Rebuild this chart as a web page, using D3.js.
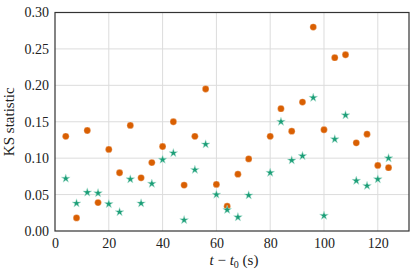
<!DOCTYPE html>
<html>
<head>
<meta charset="utf-8">
<script src="https://cdn.jsdelivr.net/npm/d3@7"></script>
<style>
  body { margin: 0; background: #fff; }
  text { font-family: "Liberation Serif", "DejaVu Serif", serif; fill: #222; }
</style>
</head>
<body>
<script>
// sample times (s), no point at 76
var times = [4, 8, 12, 16, 20, 24, 28, 32, 36, 40, 44, 48, 52, 56, 60, 64, 68, 72,
             80, 84, 88, 92, 96, 100, 104, 108, 112, 116, 120, 124];

// orange circles
var ksA = [0.130, 0.018, 0.138, 0.039, 0.112, 0.080, 0.145, 0.073, 0.094, 0.116,
           0.150, 0.063, 0.130, 0.195, 0.064, 0.034, 0.078, 0.099,
           0.130, 0.168, 0.137, 0.177, 0.280, 0.139, 0.238, 0.242, 0.121, 0.133, 0.090, 0.087];

// green stars
var ksB = [0.072, 0.038, 0.053, 0.052, 0.037, 0.026, 0.071, 0.038, 0.065, 0.098,
           0.107, 0.015, 0.084, 0.119, 0.050, 0.029, 0.019, 0.049,
           0.080, 0.150, 0.097, 0.103, 0.183, 0.021, 0.126, 0.159, 0.069, 0.062, 0.071, 0.100];

var xTicks = [0, 20, 40, 60, 80, 100, 120];
var yTicks = [0, 0.05, 0.10, 0.15, 0.20, 0.25, 0.30];

var margin = {top: 12.5, right: 6, bottom: 45, left: 55},
    width = 415 - margin.left - margin.right,
    height = 276 - margin.top - margin.bottom;

var svg = d3.select("body").append("svg")
    .attr("width", 415)
    .attr("height", 276)
  .append("g")
    .attr("transform", "translate(" + margin.left + "," + margin.top + ")");

var x = d3.scaleLinear().domain([0, 131.6]).range([0, width]);
var y = d3.scaleLinear().domain([0, 0.30]).range([height, 0]);

// grid lines
svg.append("g").selectAll("line.gx")
    .data(xTicks.slice(1))
  .enter().append("line")
    .attr("x1", d => x(d)).attr("x2", d => x(d))
    .attr("y1", 0).attr("y2", height)
    .attr("stroke", "#dcdcdc").attr("stroke-width", 1);

svg.append("g").selectAll("line.gy")
    .data(yTicks.slice(1))
  .enter().append("line")
    .attr("x1", 0).attr("x2", width)
    .attr("y1", d => y(d)).attr("y2", d => y(d))
    .attr("stroke", "#dcdcdc").attr("stroke-width", 1);

// axes (labels only, no tick marks)
var xAxis = svg.append("g")
    .attr("transform", "translate(0," + height + ")")
    .call(d3.axisBottom(x).tickValues(xTicks).tickSize(0).tickPadding(7).tickFormat(d3.format("d")));
var yAxis = svg.append("g")
    .call(d3.axisLeft(y).tickValues(yTicks).tickSize(0).tickPadding(6).tickFormat(d3.format(".2f")));

[xAxis, yAxis].forEach(function(a) {
  a.select(".domain").remove();
  a.selectAll("text")
    .style("font-family", '"Liberation Serif", serif')
    .style("font-size", "14px")
    .attr("fill", "#444");
});

// points
svg.append("g").selectAll("circle")
    .data(times.map((t, i) => [t, ksA[i]]))
  .enter().append("circle")
    .attr("cx", d => x(d[0]))
    .attr("cy", d => y(d[1]))
    .attr("r", 3.4)
    .attr("fill", "#d95f02")
    .attr("stroke", "#fff")
    .attr("stroke-width", 0.3);

var star = d3.symbol().type(d3.symbolStar).size(24);
svg.append("g").selectAll("path")
    .data(times.map((t, i) => [t, ksB[i]]))
  .enter().append("path")
    .attr("d", star)
    .attr("transform", d => "translate(" + x(d[0]) + "," + y(d[1]) + ")")
    .attr("fill", "#1b9e77")
    .attr("stroke", "#bfe6da")
    .attr("stroke-width", 0.5);

// frame
svg.append("rect")
    .attr("width", width).attr("height", height)
    .attr("fill", "none")
    .attr("stroke", "#333").attr("stroke-width", 1.2);

// axis labels
var xl = svg.append("text")
    .attr("x", width / 2 + 2)
    .attr("y", height + 34)
    .attr("text-anchor", "middle")
    .style("font-size", "15px");
xl.append("tspan").style("font-style", "italic").text("t");
xl.append("tspan").text(" \u2212 ");
xl.append("tspan").style("font-style", "italic").text("t");
xl.append("tspan").attr("dy", 3).style("font-size", "10px").text("0");
xl.append("tspan").attr("dy", -3).text(" (s)");

svg.append("text")
    .attr("transform", "translate(" + (-41) + "," + (height / 2) + ") rotate(-90)")
    .attr("text-anchor", "middle")
    .style("font-size", "15px")
    .text("KS statistic");
</script>
</body>
</html>
